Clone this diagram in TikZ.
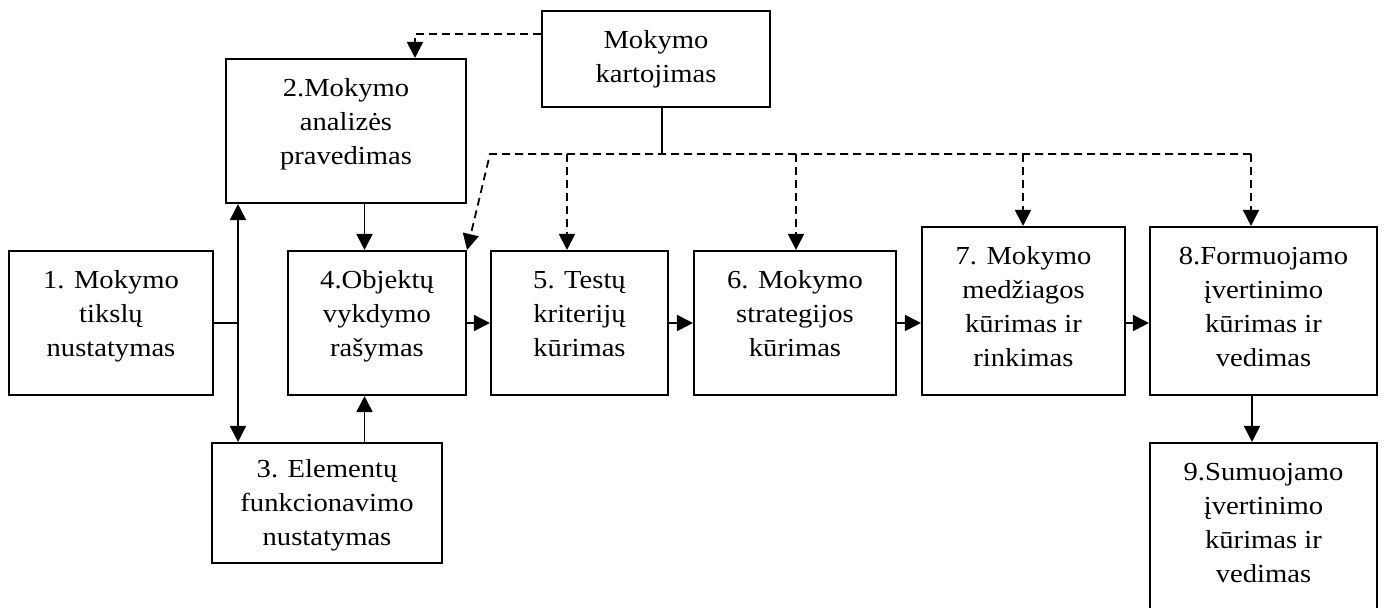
\documentclass[tikz,border=0pt]{standalone}
\usepackage{fontspec}
\setmainfont{Liberation Serif}[FakeStretch=1.1]
\usetikzlibrary{arrows.meta}
\tikzset{
  box/.style={draw, line width=2.1pt, rectangle, inner xsep=4pt, inner ysep=0pt,
    minimum height=0pt, align=center,
    font=\fontsize{26}{34}\selectfont},
  % first baseline 37pt below the top edge; lines 34pt apart
  twoline/.style={text height=71pt},
  threeline/.style={text height=105pt},
  fourline/.style={text height=139pt},
  conn/.style={line width=1.8pt},
  dconn/.style={line width=1.8pt, dash pattern=on 8pt off 5pt},
  tip/.style={-{Triangle[length=16pt,width=16pt]}},
  tips/.style={{Triangle[length=16pt,width=16pt]}-{Triangle[length=16pt,width=16pt]}}
}
\begin{document}
\begin{tikzpicture}[x=1pt,y=-1pt]
\path[use as bounding box] (0,0) rectangle (1385,608);
\clip (0,0) rectangle (1385,608);

% process steps
\node[box, twoline,   minimum width=228pt, text depth=25pt] (kart) at (656,59)    {Mokymo\\kartojimas};
\node[box, threeline, minimum width=240pt, text depth=39pt] (b2)   at (346,131)   {2.Mokymo\\analizės\\pravedimas};
\node[box, threeline, minimum width=204pt, text depth=39pt] (b1)   at (111,323)   {1. Mokymo\\tikslų\\nustatymas};
\node[box, threeline, minimum width=178pt, text depth=39pt] (b4)   at (377,323)   {4.Objektų\\vykdymo\\rašymas};
\node[box, text height=102pt, minimum width=230pt, text depth=18pt] (b3) at (327,503) {3. Elementų\\funkcionavimo\\nustatymas};
\node[box, threeline, minimum width=177pt, text depth=39pt] (b5)   at (579.5,323) {5. Testų\\kriterijų\\kūrimas};
\node[box, threeline, minimum width=202pt, text depth=39pt] (b6)   at (795,323)   {6. Mokymo\\strategijos\\kūrimas};
\node[box, fourline,  minimum width=203pt, text depth=29pt] (b7)   at (1023.5,311) {7. Mokymo\\medžiagos\\kūrimas ir\\rinkimas};
\node[box, fourline,  minimum width=227pt, text depth=29pt] (b8)   at (1263.5,311) {8.Formuojamo\\įvertinimo\\kūrimas ir\\vedimas};
\node[box, fourline,  minimum width=227pt, text depth=29pt] (b9)   at (1263.5,527) {9.Sumuojamo\\įvertinimo\\kūrimas ir\\vedimas};

% junction points
\coordinate (k1)  at (415,34);
\coordinate (hub) at (662,154);
\coordinate (dl)  at (490,154);
\coordinate (d5)  at (567,154);
\coordinate (d6)  at (796,154);
\coordinate (d7)  at (1023,154);
\coordinate (d8)  at (1251,154);
\coordinate (c24) at (364.5,0);
\coordinate (j1)  at (238,323);
\coordinate (c89) at (1252,0);

% repetition feedback (dashed)
\draw[dconn, tip] (kart.west |- k1) -- (k1) -- (b2.north -| k1);
\draw[conn] (kart.south -| hub) -- (hub);
\draw[dconn, tip] (d8) -- (dl) -- (b4.north east);
\draw[dconn, tip] (d5) -- (b5.north -| d5);
\draw[dconn, tip] (d6) -- (b6.north -| d6);
\draw[dconn, tip] (d7) -- (b7.north -| d7);
\draw[dconn, tip] (d8) -- (b8.north -| d8);

% main flow
\draw[conn] (b1.east) -- (j1);
\draw[conn, tips] (b2.south -| j1) -- (b3.north -| j1);
\draw[conn, tip] (b2.south -| c24) -- (b4.north -| c24);
\draw[conn, tip] (b3.north -| c24) -- (b4.south -| c24);
\draw[conn, tip] (b4.east) -- (b5.west);
\draw[conn, tip] (b5.east) -- (b6.west);
\draw[conn, tip] (b6.east) -- (b7.west |- b6.east);
\draw[conn, tip] (b7.east |- b6.east) -- (b8.west |- b6.east);
\draw[conn, tip] (b8.south -| c89) -- (b9.north -| c89);
\end{tikzpicture}
\end{document}
